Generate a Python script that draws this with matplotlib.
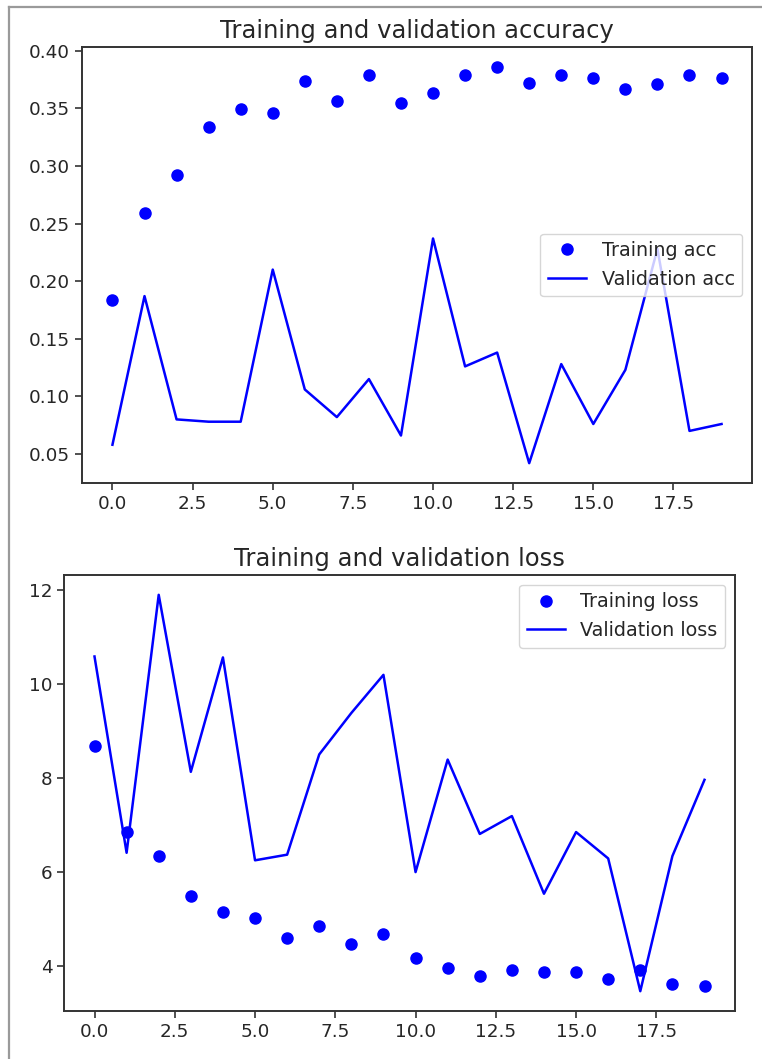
import matplotlib
matplotlib.use("Agg")
import matplotlib.pyplot as plt
from matplotlib.lines import Line2D

epochs = list(range(20))
train_acc = [0.184, 0.259, 0.292, 0.334, 0.349, 0.346, 0.374, 0.356, 0.379, 0.355,
             0.363, 0.379, 0.386, 0.372, 0.379, 0.376, 0.367, 0.371, 0.379, 0.376]
val_acc = [0.058, 0.187, 0.080, 0.078, 0.078, 0.210, 0.106, 0.082, 0.115, 0.066,
           0.237, 0.126, 0.138, 0.042, 0.128, 0.076, 0.123, 0.228, 0.070, 0.076]
train_loss = [8.67, 6.85, 6.34, 5.49, 5.15, 5.02, 4.60, 4.85, 4.47, 4.69,
              4.18, 3.96, 3.79, 3.92, 3.88, 3.88, 3.72, 3.93, 3.62, 3.58]
val_loss = [10.58, 6.41, 11.89, 8.13, 10.56, 6.25, 6.37, 8.50, 9.38, 10.19,
            6.00, 8.39, 6.81, 7.19, 5.54, 6.85, 6.29, 3.47, 6.34, 7.96]

plt.rcParams.update({
    "font.family": "DejaVu Sans",
    "xtick.labelsize": 13.2,
    "ytick.labelsize": 13.2,
    "legend.fontsize": 13.8,
    "axes.titlesize": 17.5,
    "axes.linewidth": 1.4,
    "xtick.major.width": 1.2,
    "ytick.major.width": 1.2,
    "xtick.major.size": 5,
    "ytick.major.size": 5,
    "axes.edgecolor": "#333333",
    "xtick.color": "#333333",
    "ytick.color": "#333333",
    "xtick.labelcolor": "#262626",
    "ytick.labelcolor": "#262626",
    "text.color": "#262626",
})

W, H = 762, 1059
fig = plt.figure(figsize=(W / 100, H / 100), dpi=100)

ax1 = fig.add_axes([82 / W, (H - 483) / H, 670 / W, 436 / H])
ax1.plot(epochs, train_acc, "bo", markersize=8, label="Training acc")
ax1.plot(epochs, val_acc, "b", linewidth=1.8, label="Validation acc")
ax1.set_title("Training and validation accuracy", pad=6.5)
ax1.legend(loc="center right")

ax2 = fig.add_axes([64 / W, (H - 1011) / H, 671 / W, 436 / H])
ax2.plot(epochs, train_loss, "bo", markersize=8, label="Training loss")
ax2.plot(epochs, val_loss, "b", linewidth=1.8, label="Validation loss")
ax2.set_title("Training and validation loss", pad=6.5)
ax2.legend(loc="upper right")

# screenshot frame lines (left and top)
fig.add_artist(Line2D([8.7 / W, 8.7 / W], [0, 1 - 6.7 / H], color="#9a9a9a", linewidth=1.6))
fig.add_artist(Line2D([8.7 / W, 1], [1 - 6.7 / H, 1 - 6.7 / H], color="#9a9a9a", linewidth=1.6))

fig.savefig("out.png", dpi=100)
